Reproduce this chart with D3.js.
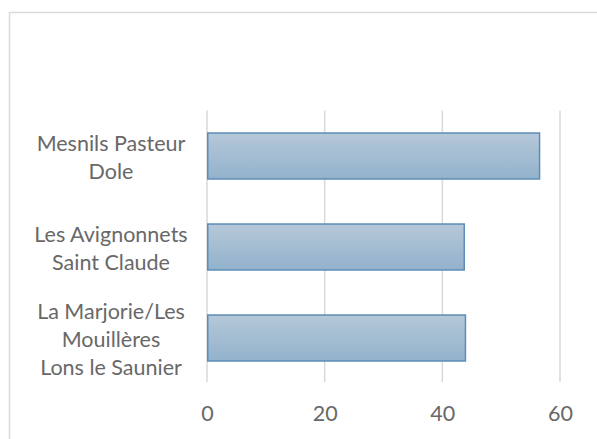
<!DOCTYPE html>
<html>
<head>
<meta charset="utf-8">
<script src="https://cdn.jsdelivr.net/npm/d3@7"></script>
<style>
  html, body { margin: 0; padding: 0; background: #fff; }
  svg { display: block; font-family: Lato, "Open Sans", sans-serif; }
</style>
</head>
<body>
<svg id="chart" width="597" height="439"></svg>
<script>
// categories top to bottom, each as label lines
const categories = ["Mesnils Pasteur Dole", "Les Avignonnets Saint Claude", "La Marjorie/Les Mouillères Lons le Saunier"];
const labelLines = [["Mesnils Pasteur", "Dole"], ["Les Avignonnets", "Saint Claude"], ["La Marjorie/Les", "Mouillères", "Lons le Saunier"]];
const values = [56.4, 43.6, 43.8];
const xTicks = [0, 20, 40, 60];

const W = 597, H = 439;
const M = { top: 110.5, right: 37, bottom: 55.5, left: 207 };
const ink = "#686868", grid = "#d9d9d9";
const fontSize = 21.5;

const svg = d3.select("#chart");

const defs = svg.append("defs");
const grad = defs.append("linearGradient").attr("id", "barFill")
  .attr("x1", 0).attr("y1", 0).attr("x2", 0).attr("y2", 1);
grad.append("stop").attr("offset", "0%").attr("stop-color", "#b5c8d8");
grad.append("stop").attr("offset", "100%").attr("stop-color", "#92b2cc");

// chart area border (runs off the right and bottom edges)
svg.append("rect")
  .attr("x", 9.5).attr("y", 12.5).attr("width", 620).attr("height", 460)
  .attr("fill", "none").attr("stroke", grid).attr("stroke-width", 1.5);

const x = d3.scaleLinear().domain([0, 60]).range([M.left, W - M.right]);
const y = d3.scaleBand().domain(categories)
  .range([M.top, H - M.bottom]).paddingInner(0.495).paddingOuter(0.2475);

// vertical gridlines
svg.append("g").selectAll("line").data(xTicks).join("line")
  .attr("x1", d => x(d)).attr("x2", d => x(d))
  .attr("y1", M.top).attr("y2", H - M.bottom - 1.5)
  .attr("stroke", grid).attr("stroke-width", 1.5);

// bars
svg.append("g").selectAll("rect").data(values).join("rect")
  .attr("x", x(0) + 0.75)
  .attr("y", (d, i) => y(categories[i]))
  .attr("width", d => x(d) - x(0))
  .attr("height", y.bandwidth())
  .attr("fill", "url(#barFill)")
  .attr("stroke", "#5d8db7").attr("stroke-width", 1.5);

// x axis labels
const gx = svg.append("g").attr("transform", `translate(0,${H - M.bottom})`)
  .call(d3.axisBottom(x).tickValues(xTicks).tickSize(0).tickPadding(22));
gx.select(".domain").remove();
gx.selectAll("text").attr("fill", ink).attr("font-size", fontSize)
  .attr("font-family", "Lato, 'Open Sans', sans-serif");

// category labels, centred in the left margin
const lineH = 28;
svg.append("g").selectAll("text").data(labelLines).join("text")
  .attr("text-anchor", "middle").attr("fill", ink).attr("font-size", fontSize)
  .attr("x", 111)
  .attr("y", (d, i) => y(categories[i]) + y.bandwidth() / 2 + 1 - (d.length - 1) * lineH / 2)
  .each(function (d) {
    d3.select(this).selectAll("tspan").data(d).join("tspan")
      .attr("x", 111)
      .attr("dy", (t, j) => j === 0 ? "0.35em" : lineH)
      .text(t => t);
  });
</script>
</body>
</html>
